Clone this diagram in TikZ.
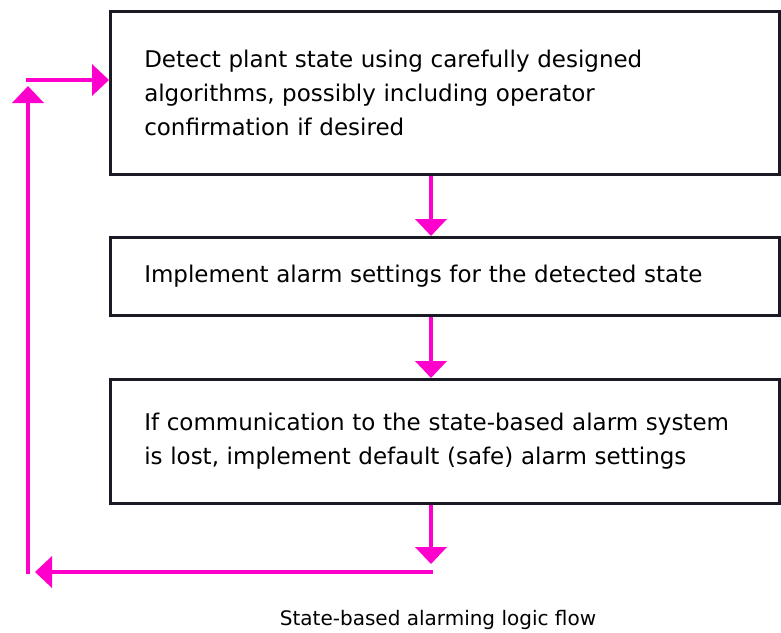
\documentclass[tikz,border=0pt]{standalone}
\usepackage{fontspec}
\setmainfont{DejaVu Sans}
\usetikzlibrary{arrows.meta,calc}
\definecolor{flowmag}{HTML}{FF00CC}
\definecolor{boxline}{HTML}{1A1A24}
\begin{document}
\begin{tikzpicture}[x=1pt,y=-1pt,
  box/.style={draw=boxline,line width=2.5pt,rectangle,minimum width=669pt,inner xsep=34pt,
    text width=601pt,align=left,font=\fontsize{23}{34}\selectfont,anchor=north west},
  flow/.style={draw=flowmag,line width=4pt,-{Triangle[length=17pt,width=31pt]}}]
\useasboundingbox (0,0) rectangle (781,632);
\node[box,minimum height=163pt] (b1) at (109,10) {Detect plant state using carefully designed\\algorithms, possibly including operator\\confirmation if desired};
\node[box,minimum height=78pt] (b2) at (109,236) {Implement alarm settings for the detected state};
\node[box,minimum height=124pt] (b3) at (109,378) {If communication to the state-based alarm system\\is lost, implement default (safe) alarm settings};
\coordinate (ax) at (431,0);
\coordinate (d1) at (431,564);
\coordinate (h1) at (433,572);
\coordinate (h2) at (35,572);
\coordinate (v1) at (28,574);
\coordinate (v2) at (28,86);
\coordinate (r1) at (26,80);
\draw[flow] (b1.south -| ax) -- (b2.north -| ax);
\draw[flow] (b2.south -| ax) -- (b3.north -| ax);
\draw[flow] (b3.south -| ax) -- (d1);
\draw[flow] (h1) -- (h2);
\draw[flow] (v1) -- (v2);
\draw[flow] (r1) -- (r1 -| b1.west);
\node[font=\fontsize{20}{24}\selectfont] (cap) at (438,620) {State-based alarming logic flow};
\end{tikzpicture}
\end{document}
